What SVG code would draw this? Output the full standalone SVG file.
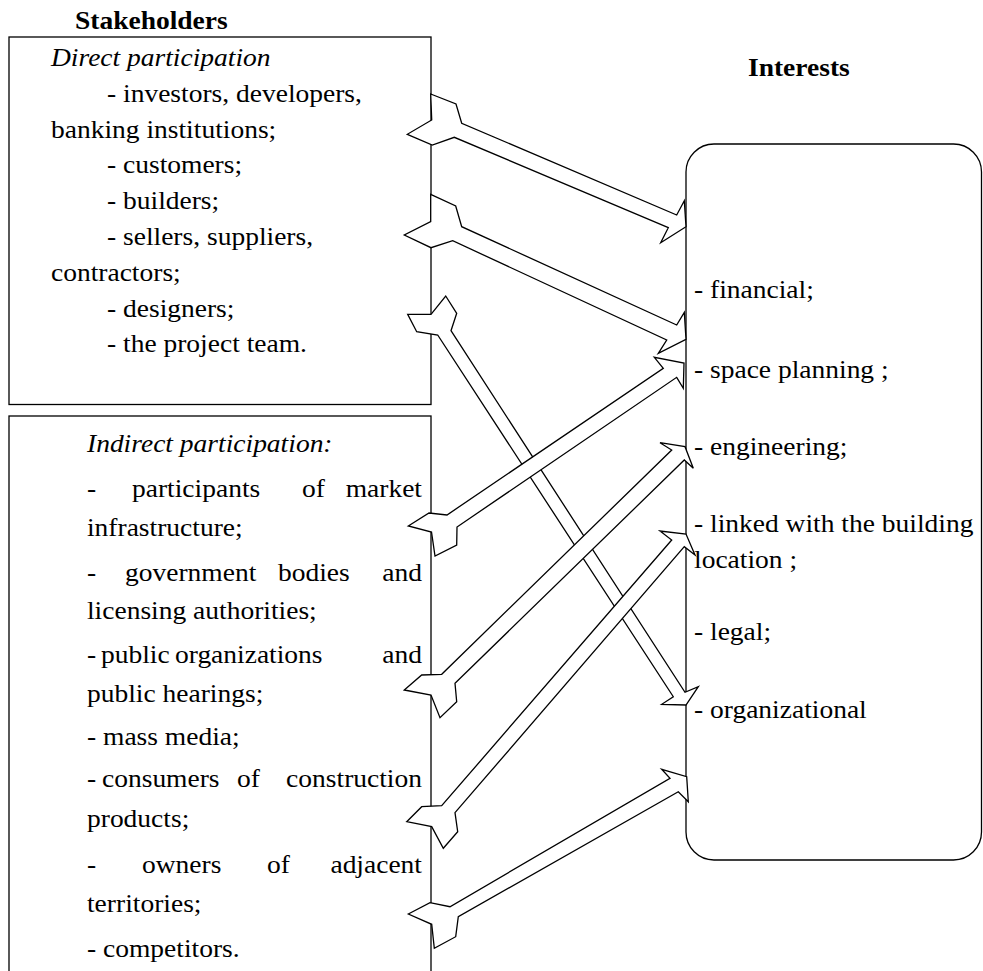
<svg xmlns="http://www.w3.org/2000/svg" width="983" height="971" viewBox="0 0 983 971">
<style>
.box{fill:#fff;stroke:#000;stroke-width:1.3}
.arr{fill:#fff;stroke:#000;stroke-width:1.3;stroke-linejoin:miter}
text{font-family:"Liberation Serif","Times New Roman",serif;font-size:25px;fill:#000}
.b{font-weight:bold}
.i{font-style:italic}
.e{text-anchor:end}
</style>
<g id="stakeholders-title"><g transform="scale(1.1,1)"><text class="b" x="68.18" y="29">Stakeholders</text></g></g>
<g id="direct">
<rect class="box" x="9" y="37" width="422" height="367.5"/>
<g transform="scale(1.1,1)">
<text class="i" x="46.36" y="66">Direct participation</text>
<text x="97.27" y="101.8">- investors, developers,</text>
<text x="46.36" y="137.6">banking institutions;</text>
<text x="97.27" y="173.4">- customers;</text>
<text x="97.27" y="209.2">- builders;</text>
<text x="97.27" y="245">- sellers, suppliers,</text>
<text x="46.36" y="280.8">contractors;</text>
<text x="97.27" y="316.6">- designers;</text>
<text x="97.27" y="352.4">- the project team.</text>
</g>
</g>
<g id="indirect">
<rect class="box" x="9" y="416" width="422" height="600"/>
<g transform="scale(1.1,1)">
<text class="i" x="79.09" y="452">Indirect participation:</text>
<text x="79.09" y="497">-</text><text x="120" y="497">participants</text><text x="274.55" y="497">of</text><text class="e" x="383.64" y="497">market</text>
<text x="79.09" y="536">infrastructure;</text>
<text x="79.09" y="581">-</text><text x="113.64" y="581">government</text><text x="252.73" y="581">bodies</text><text class="e" x="383.64" y="581">and</text>
<text x="79.09" y="619">licensing authorities;</text>
<text x="79.09" y="663">-</text><text x="91.82" y="663">public</text><text x="159.09" y="663">organizations</text><text class="e" x="383.64" y="663">and</text>
<text x="79.09" y="702">public hearings;</text>
<text x="79.09" y="745">- mass media;</text>
<text x="79.09" y="787">-</text><text x="92.73" y="787">consumers</text><text x="215.45" y="787">of</text><text class="e" x="383.64" y="787">construction</text>
<text x="79.09" y="827">products;</text>
<text x="79.09" y="873">-</text><text x="129.09" y="873">owners</text><text x="242.73" y="873">of</text><text class="e" x="383.64" y="873">adjacent</text>
<text x="79.09" y="912">territories;</text>
<text x="79.09" y="957">- competitors.</text>
</g>
</g>
<g id="interests-title"><g transform="scale(1.1,1)"><text class="b" x="680" y="76">Interests</text></g></g>
<g id="interests">
<rect class="box" x="686" y="144" width="295.5" height="716" rx="28" ry="28"/>
<g transform="scale(1.1,1)">
<text x="630.91" y="298">- financial;</text>
<text x="630.91" y="378">- space planning ;</text>
<text x="630.91" y="455">- engineering;</text>
<text x="630.91" y="532">- linked with the building</text>
<text x="630.91" y="568">location ;</text>
<text x="630.91" y="640">- legal;</text>
<text x="630.91" y="718">- organizational</text>
</g>
</g>
<g id="connectors">
<polygon class="arr" points="430.7,94 456,104 461.7,123.3 676.7,215 684.3,200.7 686,226.7 660.7,242.7 668.3,227.7 454.3,137.3 432.3,145 407.3,134.3 431.7,120"/>
<polygon class="arr" points="430.7,194.3 455.7,206 461.7,226.7 676.7,325 684.3,312.3 686,339.3 658.3,353.3 666.7,340 452.7,240.7 431,247.7 404.3,235 430.7,221.7"/>
<polygon class="arr" points="445.7,296 456.7,313.3 451,330.7 685,692.3 698.3,686.7 686,705 661.7,704.3 673.3,696.7 437.7,335 416.7,331.7 407.7,314.3 431,314.3"/>
<polygon class="arr" points="408.3,526 429,513 447,515 663.3,368.3 654.3,357.3 684,363 683.3,388.3 676.7,377.3 457,527 456.7,545 435,556 431.5,532"/>
<polygon class="arr" points="404.3,690 421.7,675 441.7,674.3 671.7,450 660,442.7 685,446.7 693.3,468.3 684.3,460 455,683.3 456.7,701.7 440,717.7 431,695"/>
<polygon class="arr" points="406.7,821.7 421.7,806.7 441.7,805.7 671.7,540 660,531 686,534 695,555 684.3,546.7 455,812.7 457.7,831.7 443.3,848.3 431.7,826.7"/>
<polygon class="arr" points="408.3,914 430,902.7 450,906.7 670,778.3 661.7,769.3 686.7,776.7 688.3,801.7 678.3,791.7 458.3,916.7 455.7,936.7 434.3,948.3 431.7,924.3"/>
</g>
</svg>
